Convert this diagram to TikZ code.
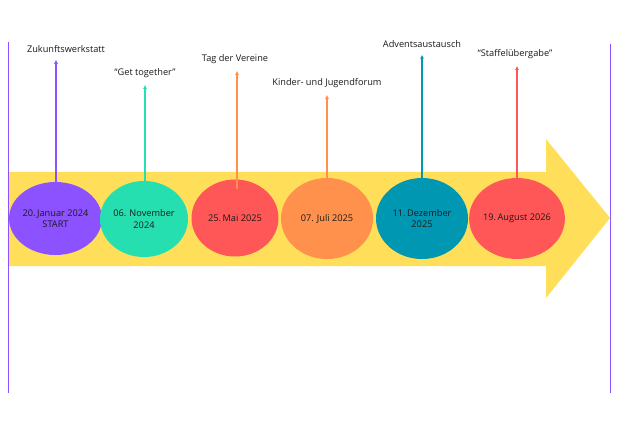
\documentclass[tikz,border=0pt]{standalone}
\usepackage{fontspec}
\setmainfont{Open Sans}
\definecolor{tlpurple}{HTML}{8C52FF}
\definecolor{tlgreen}{HTML}{25DFB0}
\definecolor{tlred}{HTML}{FF5757}
\definecolor{tlorange}{HTML}{FF914D}
\definecolor{tlteal}{HTML}{0097B2}
\definecolor{tlyellow}{HTML}{FFDE59}
\definecolor{tlink}{HTML}{1A1A1A}
\usetikzlibrary{positioning, arrows.meta, shapes.geometric}

\begin{document}
\begin{tikzpicture}[x=1pt, y=-1pt, every node/.style={font=\fontsize{9.2}{11.5}\selectfont, text=tlink},
    datum/.style={ellipse, inner sep=0pt, minimum width=90pt, minimum height=80pt, align=center},
    event/.style={inner sep=2pt}]
        \useasboundingbox (0,0) rectangle (620,438);
        % band with arrow head
        \fill[tlyellow] (9,172) -- (546,172) -- (546,139) -- (610,218) -- (546,298) -- (546,266) -- (9,266) -- cycle;
        % frame lines
        \draw[tlpurple, line width=1pt] (8,42) -- (8,393);
        \draw[tlpurple, line width=1pt] (610,44) -- (610,393);
        % dates
        \node[datum, fill=tlpurple, minimum width=85pt, minimum height=73pt] (d1) at (55.5,218.5) {20.\,Januar 2024\\START};
        \node[datum, fill=tlgreen, minimum width=88pt, minimum height=76pt] (d2) at (144,219) {06. November\\2024};
        \node[datum, fill=tlred, minimum width=87pt, minimum height=77pt] (d3) at (235,218) {25.\,Mai 2025};
        \node[datum, fill=tlorange, minimum width=92pt, minimum height=81pt] (d4) at (327,218.5) {07. Juli 2025};
        \node[datum, fill=tlteal, minimum width=92pt, minimum height=81pt] (d5) at (422,218.5) {11.\,Dezember\\2025};
        \node[datum, fill=tlred, minimum width=92pt, minimum height=81pt] (d6) at (517,218.5) {19.\,August 2026};
        % events
        \node[event] (e1) at (66,49) {Zukunftswerkstatt};
        \node[event] (e2) at (145,73) {“Get together”};
        \node[event] (e3) at (235,59) {Tag der Vereine};
        \node[event] (e4) at (327,83) {Kinder- und Jugendforum};
        \node[event] (e5) at (422,44) {Adventsaustausch};
        \node[event] (e6) at (515,54) {“Staffelübergabe”};
        \draw[-{Latex[length=4pt,width=4pt]}, tlpurple, line width=1.1pt, shorten >=5pt] ([xshift=0.5pt]d1.north) -- ([xshift=0.5pt]d1.north |- e1.south);
        \draw[-{Latex[length=4pt,width=4pt]}, tlgreen, line width=1.1pt, shorten >=5pt] ([xshift=1pt]d2.north) -- ([xshift=1pt]d2.north |- e2.south);
        \draw[-{Latex[length=4pt,width=4pt]}, tlorange, line width=1.1pt, shorten >=5pt] ([xshift=2pt,yshift=-10pt]d3.north) -- ([xshift=2pt]d3.north |- e3.south);
        \draw[-{Latex[length=4pt,width=4pt]}, tlorange, line width=1.1pt, shorten >=5pt] (d4.north) -- (d4.north |- e4.south);
        \draw[-{Latex[length=4pt,width=4pt]}, tlteal, line width=1.1pt, shorten >=5pt] (d5.north) -- (d5.north |- e5.south);
        \draw[-{Latex[length=4pt,width=4pt]}, tlred, line width=1.1pt, shorten >=5pt] (d6.north) -- (d6.north |- e6.south);
      \end{tikzpicture}
\end{document}
